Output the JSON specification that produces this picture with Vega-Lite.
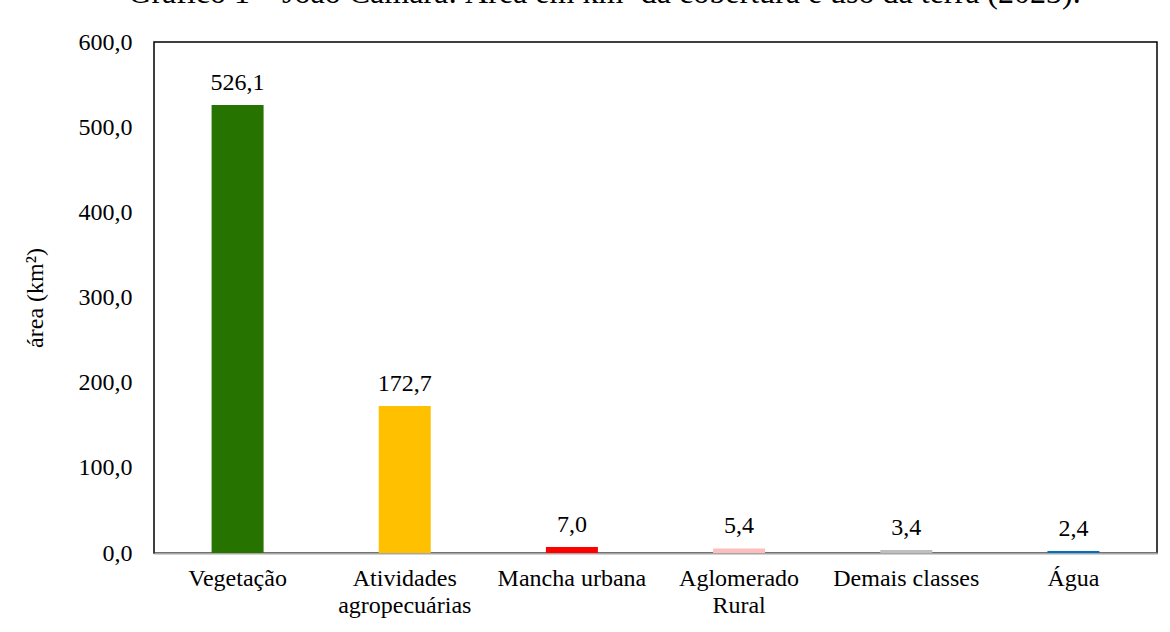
{
  "$schema": "https://vega.github.io/schema/vega-lite/v6.json",
  "width": 1003,
  "height": 511,
  "autosize": {"type": "none"},
  "padding": {"left": 154, "top": 42, "right": 13, "bottom": 79},
  "background": "white",
  "title": {
    "text": "Gráfico 1 – João Câmara: Área em km² da cobertura e uso da terra (2023).",
    "font": "Liberation Serif",
    "fontSize": 32,
    "fontWeight": "normal",
    "color": "black",
    "anchor": "middle",
    "frame": "group",
    "baseline": "alphabetic",
    "offset": 22,
    "dy": 27,
    "dx": -51
  },
  "config": {
    "font": "Liberation Serif",
    "locale": {"number": {"decimal": ",", "thousands": ".", "grouping": [3], "currency": ["R$", ""]}},
    "view": {"stroke": "black", "strokeWidth": 1.5}
  },
  "data": {
    "values": [
      {"classe": "Vegetação", "area": 526.1, "cor": "#267300"},
      {"classe": "Atividades agropecuárias", "area": 172.7, "cor": "#ffc000"},
      {"classe": "Mancha urbana", "area": 7.0, "cor": "#ff0000"},
      {"classe": "Aglomerado Rural", "area": 5.4, "cor": "#ffbebe"},
      {"classe": "Demais classes", "area": 3.4, "cor": "#bfbfbf"},
      {"classe": "Água", "area": 2.4, "cor": "#0070c0"}
    ]
  },
  "encoding": {
    "x": {
      "field": "classe",
      "type": "nominal",
      "sort": null,
      "title": null,
      "axis": {
        "labelAngle": 0,
        "labelFontSize": 24,
        "labelColor": "black",
        "labelPadding": 13,
        "ticks": false,
        "domainColor": "#a6a6a6",
        "domainWidth": 2,
        "labelExpr": "datum.value == 'Atividades agropecuárias' ? ['Atividades', 'agropecuárias'] : datum.value == 'Aglomerado Rural' ? ['Aglomerado', 'Rural'] : datum.value",
        "labelLineHeight": 27
      }
    },
    "y": {
      "field": "area",
      "type": "quantitative",
      "scale": {"domain": [0, 600]},
      "title": "área (km²)",
      "axis": {
        "values": [0, 100, 200, 300, 400, 500, 600],
        "format": ".1f",
        "labelFontSize": 24,
        "labelColor": "black",
        "labelPadding": 22,
        "ticks": false,
        "grid": false,
        "domain": false,
        "titleFontSize": 24,
        "titleFontWeight": "normal",
        "titleColor": "black",
        "titlePadding": 31
      }
    }
  },
  "layer": [
    {
      "mark": {"type": "bar", "size": 52},
      "encoding": {
        "color": {"field": "cor", "type": "nominal", "scale": null}
      }
    },
    {
      "mark": {"type": "text", "baseline": "alphabetic", "dy": -15, "fontSize": 24, "color": "black"},
      "encoding": {
        "text": {"field": "area", "type": "quantitative", "format": ".1f"}
      }
    }
  ]
}
